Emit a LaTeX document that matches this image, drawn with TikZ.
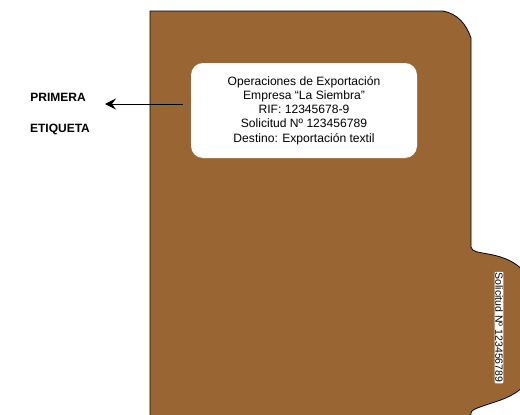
\documentclass[tikz,border=0pt]{standalone}
\usepackage{fontspec}
\setmainfont{Liberation Sans}
\usetikzlibrary{arrows.meta}
\definecolor{folder}{HTML}{996633}
\tikzset{
  labelbox/.style={fill=white, rounded corners=12pt, minimum width=226pt, minimum height=95pt, align=center, font=\fontsize{12.1}{14.3}\selectfont, inner sep=0pt},
  tabbox/.style={fill=white, rounded corners=1pt, inner xsep=1pt, inner ysep=0.5pt, font=\fontsize{10.5}{12}\selectfont, rotate=-90},
  title/.style={font=\fontsize{12}{13}\selectfont\bfseries},
  pointer/.style={-{Stealth[length=11pt,width=11pt,inset=4pt]}, line width=1pt}
}
\begin{document}
\begin{tikzpicture}[x=1pt,y=-1pt]
\useasboundingbox (0,0) rectangle (520,415);
\fill[folder] (150,420) -- (150,11) -- (443,11)
  .. controls (458,14) and (466,24) .. (471,38)
  -- (471,247)
  .. controls (472,252) and (478,252) .. (488,254)
  .. controls (505,257) and (515,262) .. (525,272)
  -- (525,385)
  .. controls (512,398) and (500,400) .. (480,407)
  .. controls (474,409) and (471,411) .. (471,413) -- (471,420) -- cycle;
\draw[line width=0.8pt] (150,420) -- (150,11) -- (443,11)
  .. controls (458,14) and (466,24) .. (471,38)
  -- (471,247)
  .. controls (472,252) and (478,252) .. (488,254)
  .. controls (505,257) and (515,262) .. (525,272);
\draw[line width=0.8pt] (525,385)
  .. controls (512,398) and (500,400) .. (480,407)
  .. controls (474,409) and (471,411) .. (471,413) -- (471,420);
\node[labelbox] (lbl) at (304,110.5) {Operaciones de Exportación\\Empresa “La Siembra”\\RIF: 12345678-9\\Solicitud Nº 123456789\\Destino: Exportación textil};
\node[tabbox] (tab) at (499,327.5) {Solicitud Nº 123456789};
\node[title] (t1) at (58,97) {PRIMERA};
\node[title] (t2) at (60,129) {ETIQUETA};
\coordinate (a0) at (183,104);
\coordinate (a1) at (105,104);
\draw[pointer] (a0) -- (a1);
\end{tikzpicture}
\end{document}
